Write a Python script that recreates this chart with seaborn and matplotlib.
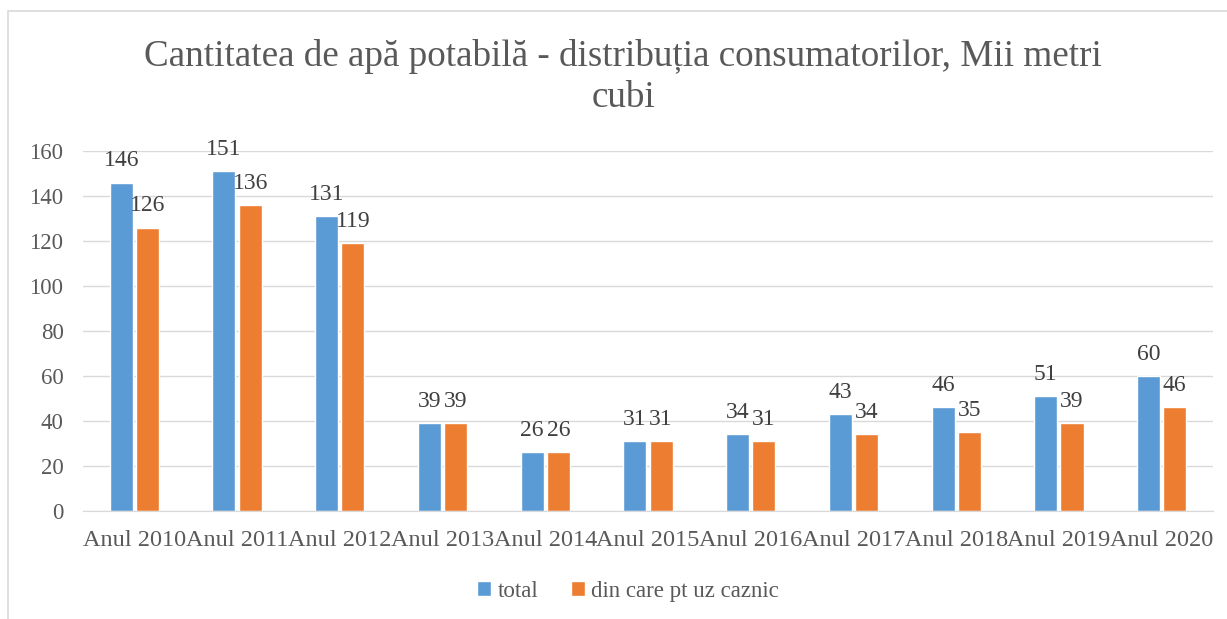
import pandas as pd
import numpy as np
import matplotlib
matplotlib.use('Agg')
import matplotlib.pyplot as plt
import seaborn as sns
from matplotlib.patches import Rectangle

# data
years = ['Anul 2010', 'Anul 2011', 'Anul 2012', 'Anul 2013', 'Anul 2014', 'Anul 2015',
         'Anul 2016', 'Anul 2017', 'Anul 2018', 'Anul 2019', 'Anul 2020']
total = [146, 151, 131, 39, 26, 31, 34, 43, 46, 51, 60]
caznic = [126, 136, 119, 39, 26, 31, 31, 34, 35, 39, 46]
series_names = ['total', 'din care pt uz caznic']
colors = ['#5B9BD5', '#ED7D31']

df = pd.DataFrame({'an': years * 2,
                   'valoare': total + caznic,
                   'serie': [series_names[0]] * len(years) + [series_names[1]] * len(years)})

sns.set_style('white')
plt.rcParams['font.family'] = ['Liberation Serif', 'DejaVu Serif']
txt = '#595959'

fig = plt.figure(figsize=(12.27, 6.19), dpi=100)
ax = fig.add_axes([0.0676, 0.1745, 0.921, 0.5815])

sns.barplot(data=df, x='an', y='valoare', hue='serie', palette=colors, saturation=1,
            width=0.51, gap=0.12, ax=ax, legend=True)

for cont in ax.containers:
    ax.bar_label(cont, fontsize=17, color='#404040', padding=8)

ax.set_ylim(0, 160)
ax.set_yticks(range(0, 161, 20))
ax.set_xlim(-0.5, len(years) - 0.5)
ax.yaxis.grid(True, color='#D9D9D9', linewidth=1)
ax.set_axisbelow(True)
for s in ['top', 'right', 'left']:
    ax.spines[s].set_visible(False)
ax.spines['bottom'].set_color('#D9D9D9')
ax.tick_params(axis='both', colors=txt, length=0)
ax.tick_params(axis='y', labelsize=16.5, pad=14)
ax.tick_params(axis='x', labelsize=17.5, pad=14)
ax.set_xlabel('')
ax.set_ylabel('')

fig.suptitle('Cantitatea de apă potabilă - distribuția consumatorilor, Mii metri\ncubi',
             fontsize=26.7, color=txt, x=0.508, y=0.937, linespacing=1.24)

handles, labels = ax.get_legend_handles_labels()
ax.legend_.remove()
fig.legend(handles, labels, loc='center', bbox_to_anchor=(0.512, 0.045), ncol=2,
           frameon=False, fontsize=16.5, labelcolor=txt, handlelength=0.6,
           handleheight=0.6, handletextpad=0.3, columnspacing=1.4)

# chart frame
fig.patches.append(Rectangle((8 / 1227, -0.1), 1.2, 1.1 - 11 / 619, transform=fig.transFigure,
                             fill=False, edgecolor='#D9D9D9', linewidth=1.2))

fig.savefig('out.png', dpi=100)
